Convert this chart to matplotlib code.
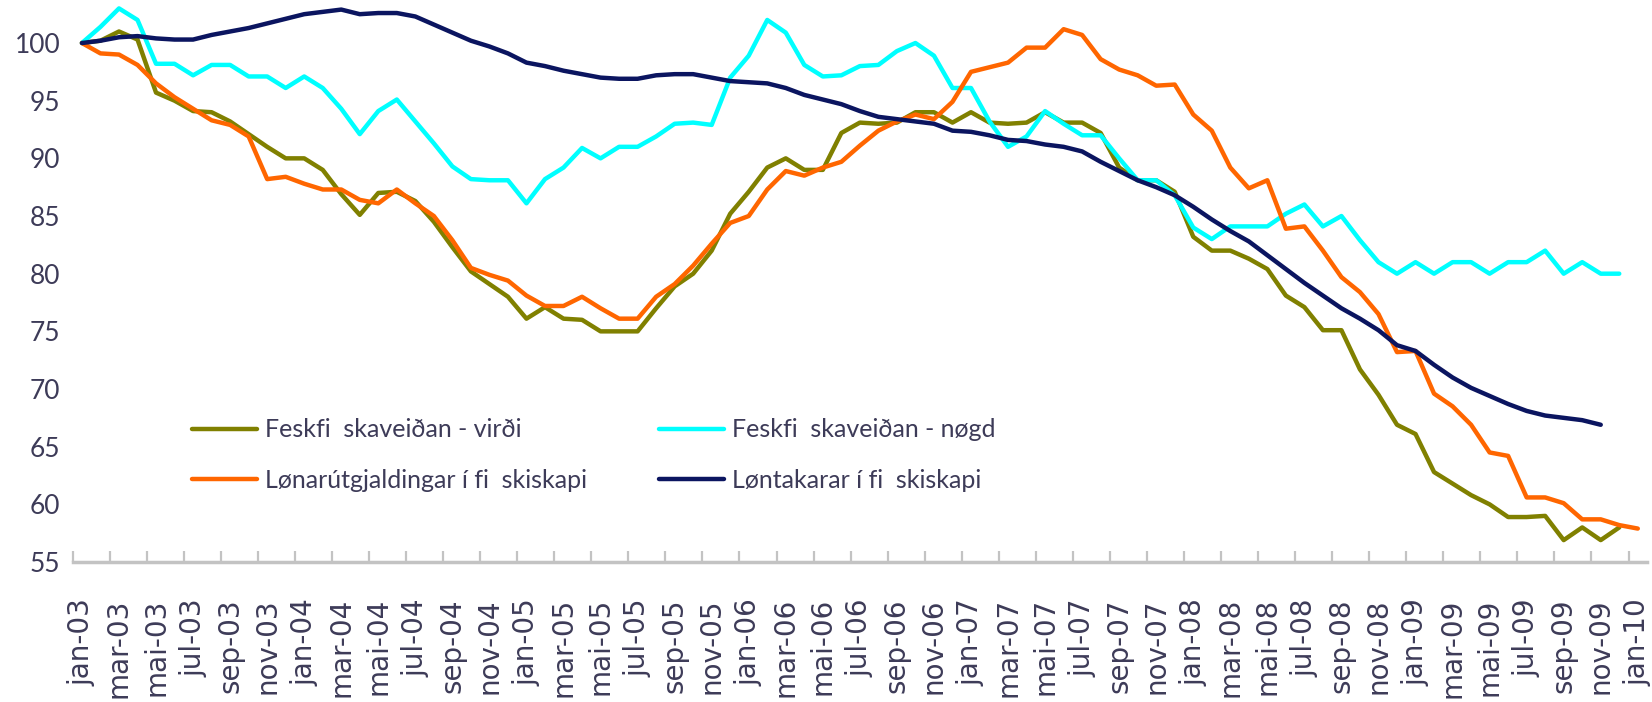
import numpy as np
import matplotlib
matplotlib.use("Agg")
import matplotlib.pyplot as plt

# monthly index, jan-03 .. jan-10
MONTHS = ["jan", "feb", "mar", "apr", "mai", "jun", "jul", "aug", "sep", "okt", "nov", "des"]
YEARS = ["03", "04", "05", "06", "07", "08", "09", "10"]
labels = [f"{m}-{y}" for y in YEARS for m in MONTHS][:85]

virdi = [100, 100.2, 101.0, 100.3, 95.7, 95.0, 94.1, 94.0, 93.2, 92.1, 91.0, 90.0,
         90.0, 89.0, 86.9, 85.1, 87.0, 87.1, 86.3, 84.5, 82.3, 80.2, 79.1, 78.0,
         76.1, 77.1, 76.1, 76.0, 75.0, 75.0, 75.0, 77.0, 78.9, 80.0, 82.0, 85.2,
         87.1, 89.2, 90.0, 89.0, 89.0, 92.2, 93.1, 93.0, 93.1, 94.0, 94.0, 93.1,
         94.0, 93.1, 93.0, 93.1, 94.0, 93.1, 93.1, 92.2, 89.2, 88.1, 88.1, 87.1,
         83.2, 82.0, 82.0, 81.3, 80.4, 78.1, 77.1, 75.1, 75.1, 71.7, 69.5, 66.9,
         66.1, 62.8, 61.8, 60.8, 60.0, 58.9, 58.9, 59.0, 56.9, 58.0, 56.9, 58.0]

nogd = [100, 101.4, 103.0, 102.0, 98.2, 98.2, 97.2, 98.1, 98.1, 97.1, 97.1, 96.1,
        97.1, 96.1, 94.3, 92.1, 94.1, 95.1, 93.2, 91.3, 89.3, 88.2, 88.1, 88.1,
        86.1, 88.2, 89.2, 90.9, 90.0, 91.0, 91.0, 91.9, 93.0, 93.1, 92.9, 97.0,
        98.9, 102.0, 100.9, 98.1, 97.1, 97.2, 98.0, 98.1, 99.3, 100.0, 98.9, 96.1,
        96.1, 93.2, 91.0, 91.9, 94.1, 93.0, 92.0, 92.0, 90.0, 88.1, 88.1, 86.8,
        84.0, 83.0, 84.1, 84.1, 84.1, 85.2, 86.0, 84.1, 85.0, 82.9, 81.0, 80.0,
        81.0, 80.0, 81.0, 81.0, 80.0, 81.0, 81.0, 82.0, 80.0, 81.0, 80.0, 80.0]

lonar = [100, 99.1, 99.0, 98.1, 96.5, 95.3, 94.3, 93.3, 92.9, 91.9, 88.2, 88.4,
         87.8, 87.3, 87.3, 86.4, 86.1, 87.3, 86.1, 85.0, 82.9, 80.5, 79.9, 79.4,
         78.1, 77.2, 77.2, 78.0, 77.0, 76.1, 76.1, 78.0, 79.1, 80.7, 82.6, 84.4,
         85.0, 87.3, 88.9, 88.5, 89.2, 89.7, 91.1, 92.4, 93.2, 93.8, 93.4, 94.9,
         97.5, 97.9, 98.3, 99.6, 99.6, 101.2, 100.7, 98.6, 97.7, 97.2, 96.3, 96.4,
         93.8, 92.4, 89.2, 87.4, 88.1, 83.9, 84.1, 82.0, 79.7, 78.4, 76.5, 73.2,
         73.3, 69.6, 68.5, 66.9, 64.5, 64.2, 60.6, 60.6, 60.1, 58.7, 58.7, 58.2,
         57.9]

lontakarar = [100, 100.2, 100.5, 100.6, 100.4, 100.3, 100.3, 100.7, 101.0, 101.3, 101.7, 102.1,
              102.5, 102.7, 102.9, 102.5, 102.6, 102.6, 102.3, 101.6, 100.9, 100.2, 99.7, 99.1,
              98.3, 98.0, 97.6, 97.3, 97.0, 96.9, 96.9, 97.2, 97.3, 97.3, 97.0, 96.7,
              96.6, 96.5, 96.1, 95.5, 95.1, 94.7, 94.1, 93.6, 93.4, 93.2, 93.0, 92.4,
              92.3, 92.0, 91.6, 91.5, 91.2, 91.0, 90.6, 89.7, 88.9, 88.1, 87.5, 86.8,
              85.8, 84.7, 83.7, 82.8, 81.6, 80.4, 79.2, 78.1, 77.0, 76.1, 75.1, 73.8,
              73.3, 72.1, 71.0, 70.1, 69.4, 68.7, 68.1, 67.7, 67.5, 67.3, 66.9]

series = [
    ("Feskfi  skaveiðan - virði", virdi, "#808000"),
    ("Feskfi  skaveiðan - nøgd", nogd, "#00FFFF"),
    ("Lønarútgjaldingar í fi  skiskapi", lonar, "#FF6600"),
    ("Løntakarar í fi  skiskapi", lontakarar, "#0B1560"),
]

TEXT = "#3d3b58"
GREY = "#c3c3c3"
NARROW = ["Lato", "DejaVu Sans"]

fig = plt.figure(figsize=(16.52, 7.02), dpi=100)
ax = fig.add_axes([0.044, 0.1994, 0.953, 0.8006])

lines = {}
for name, vals, col in series:
    x = np.arange(len(vals))
    ln, = ax.plot(x, vals, color=col, lw=3.2, solid_joinstyle="round",
                  solid_capstyle="round", label=name, clip_on=False)
    lines[name] = ln

ax.set_xlim(-0.5, 84.5)
ax.set_ylim(55, 103.73)

# category labels every second month, tick marks between categories
ax.set_xticks(np.arange(0, 85, 2))
ax.set_xticklabels(labels[::2], rotation=90, fontsize=20, color=TEXT,
                   family="DejaVu Sans")
ax.set_xticks(np.arange(-0.5, 84, 2), minor=True)
ax.tick_params(axis="x", which="major", length=0, pad=26)
ax.tick_params(axis="x", which="minor", direction="in", length=8, width=1.6, color=GREY)

ax.set_yticks(np.arange(55, 101, 5))
ax.set_yticklabels([str(v) for v in range(55, 101, 5)], fontsize=19, color=TEXT,
                   family=NARROW)
ax.tick_params(axis="y", length=0, pad=9)

for s in ["top", "right", "left"]:
    ax.spines[s].set_visible(False)
ax.spines["bottom"].set_color(GREY)
ax.spines["bottom"].set_linewidth(2.5)

order = [series[0][0], series[2][0], series[1][0], series[3][0]]
leg = ax.legend([lines[n] for n in order], order, ncol=2, frameon=False,
                loc="center left", bbox_to_anchor=(0.0758, 0.1904),
                borderpad=0, borderaxespad=0, handlelength=2.6, handletextpad=0.3,
                columnspacing=2.9, labelspacing=1.1,
                prop={"family": NARROW, "size": 18})
for t in leg.get_texts():
    t.set_color(TEXT)

fig.savefig("out.png", dpi=100)
plt.close(fig)
